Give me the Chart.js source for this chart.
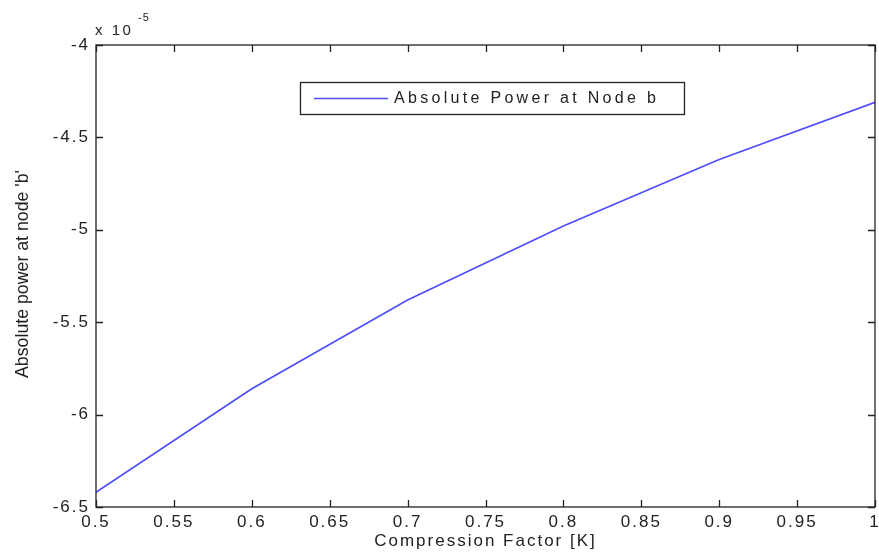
<!DOCTYPE html>
<html>
<head>
<meta charset="utf-8">
<script src="https://cdn.jsdelivr.net/npm/chart.js@4/dist/chart.umd.min.js"></script>
<style>
  html, body { margin: 0; padding: 0; background: #fff; }
  #wrap { width: 879px; height: 552px; }
</style>
</head>
<body>
<div id="wrap"><canvas id="plot"></canvas></div>
<script>
// compression factor K
const factors = [0.5, 0.6, 0.7, 0.8, 0.9, 1.0];
// absolute power at node b (x 1e-5)
const powerB = [-6.42, -5.86, -5.38, -4.98, -4.62, -4.31];
const xTicks = [0.5, 0.55, 0.6, 0.65, 0.7, 0.75, 0.8, 0.85, 0.9, 0.95, 1];
const yTicks = [-6.5, -6, -5.5, -5, -4.5, -4];

const seriesName = 'Absolute Power at Node b';
const yTitle = "Absolute power at node 'b'";
const FONT = '"Liberation Sans", Arial, sans-serif';

// wide letter spacing like the old matlab export
const spacing = {
  id: 'spacing',
  beforeDraw(chart) { chart.ctx.letterSpacing = '2px'; }
};

// matlab style box, inward ticks, legend, exponent, squeezed y title
const matlabAxes = {
  id: 'matlabAxes',
  afterDraw(chart) {
    const { ctx, chartArea: a, scales } = chart;
    ctx.save();
    ctx.strokeStyle = '#222';
    ctx.lineWidth = 1.3;
    ctx.strokeRect(a.left, a.top, a.right - a.left, a.bottom - a.top);
    const t = 7;
    ctx.beginPath();
    xTicks.forEach(v => {
      const px = Math.round(scales.x.getPixelForValue(v)) + 0.5;
      ctx.moveTo(px, a.bottom); ctx.lineTo(px, a.bottom - t);
      ctx.moveTo(px, a.top); ctx.lineTo(px, a.top + t);
    });
    yTicks.forEach(v => {
      const py = Math.round(scales.y.getPixelForValue(v)) + 0.5;
      ctx.moveTo(a.left, py); ctx.lineTo(a.left + t, py);
      ctx.moveTo(a.right, py); ctx.lineTo(a.right - t, py);
    });
    ctx.stroke();

    // exponent
    ctx.fillStyle = '#222';
    ctx.font = '15px ' + FONT;
    ctx.textBaseline = 'alphabetic';
    ctx.textAlign = 'left';
    ctx.letterSpacing = '2.5px';
    ctx.fillText('x 10', a.left - 1, 35);
    ctx.font = '11px ' + FONT;
    ctx.letterSpacing = '1px';
    ctx.fillText('-5', a.left + 42, 21);

    // legend
    const lx = 300, ly = 82, lw = 384, lh = 32;
    ctx.fillStyle = '#fff';
    ctx.fillRect(lx, ly, lw, lh);
    ctx.strokeStyle = '#222';
    ctx.lineWidth = 1.3;
    ctx.strokeRect(lx + 0.5, ly + 0.5, lw, lh);
    ctx.strokeStyle = chart.data.datasets[0].borderColor;
    ctx.lineWidth = 1.5;
    ctx.beginPath();
    ctx.moveTo(lx + 14, ly + lh / 2 + 0.5);
    ctx.lineTo(lx + 88, ly + lh / 2 + 0.5);
    ctx.stroke();
    ctx.fillStyle = '#222';
    ctx.font = '16px ' + FONT;
    ctx.textBaseline = 'middle';
    ctx.letterSpacing = '3.3px';
    ctx.fillText(seriesName, lx + 94, ly + lh / 2 + 1);

    // y title, condensed
    ctx.letterSpacing = '0px';
    ctx.font = '19px ' + FONT;
    ctx.textAlign = 'center';
    ctx.textBaseline = 'middle';
    const w = ctx.measureText(yTitle).width;
    ctx.translate(23, 274);
    ctx.rotate(-Math.PI / 2);
    ctx.scale(208 / w, 1);
    ctx.fillText(yTitle, 0, 0);
    ctx.restore();
  }
};

new Chart(document.getElementById('plot'), {
  type: 'line',
  data: {
    datasets: [{
      label: seriesName,
      data: factors.map((k, i) => ({ x: k, y: powerB[i] })),
      borderColor: '#4d4dff',
      borderWidth: 1.6,
      pointRadius: 0,
      tension: 0,
      fill: false
    }]
  },
  options: {
    responsive: true,
    maintainAspectRatio: false,
    animation: false,
    layout: { padding: { top: 45, right: 4, left: 0, bottom: 0 } },
    plugins: { legend: { display: false }, tooltip: { enabled: false } },
    scales: {
      x: {
        type: 'linear',
        min: 0.5, max: 1,
        afterBuildTicks: s => { s.ticks = xTicks.map(v => ({ value: v })); },
        afterFit: s => { s.height = 45; s.paddingRight = 0; s.paddingLeft = 0; },
        grid: { display: false, drawTicks: false },
        border: { display: false },
        ticks: {
          padding: 5,
          color: '#222',
          font: { family: FONT, size: 17 },
          maxRotation: 0,
          autoSkip: false,
          callback: v => String(+v.toFixed(2))
        },
        title: {
          display: true,
          text: 'Compression Factor [K]',
          color: '#222',
          font: { family: FONT, size: 17 },
          padding: { top: 0, bottom: 0 }
        }
      },
      y: {
        type: 'linear',
        min: -6.5, max: -4,
        afterBuildTicks: s => { s.ticks = yTicks.map(v => ({ value: v })); },
        afterFit: s => { s.width = 96; s.paddingTop = 0; s.paddingBottom = 0; },
        grid: { display: false, drawTicks: false },
        border: { display: false },
        ticks: {
          padding: 6,
          color: '#222',
          font: { family: FONT, size: 17 },
          autoSkip: false,
          callback: v => String(+v.toFixed(1))
        }
      }
    }
  },
  plugins: [spacing, matlabAxes]
});
</script>
</body>
</html>
